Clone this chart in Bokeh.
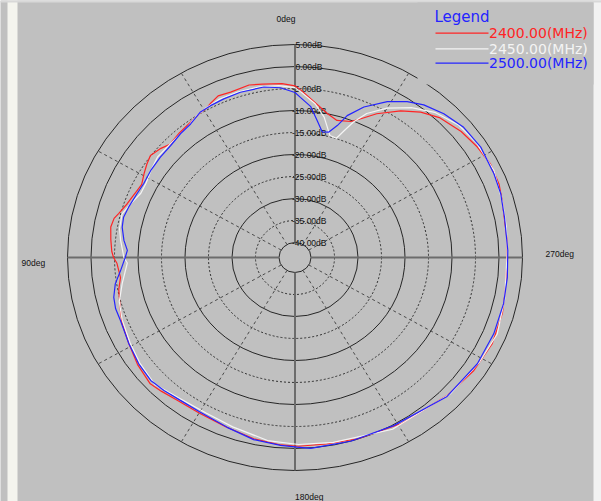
import numpy as np
from bokeh.plotting import figure
from bokeh.models import Range1d
from bokeh.embed import file_html
from bokeh.resources import INLINE
from bokeh.core.properties import value

# ---------------- data (angle in deg, ccw from top; gain in dB) ----------------
red_ang = [0, 4, 10, 14, 20, 24, 27, 29, 32, 36, 41, 46, 49, 53, 56, 59, 63, 66, 68, 71,
           75, 77, 80, 84, 88, 90, 92, 97, 101, 107, 112, 119, 126, 133, 137, 142, 150, 159, 168, 176,
           181, 189, 198, 211, 226, 236, 245, 254, 260, 266, 272, 275, 281, 286, 291, 297, 303, 309, 316, 321,
           326, 332, 336, 339, 344, 348, 354, 358]
red_db = [-4.4, -3.8, -3.4, -3.0, -3.4, -3.2, -4.0, -4.6, -4.9, -5.5, -5.9, -6.4, -5.6, -4.9, -5.4, -6.0, -6.8, -6.5, -6.2, -5.7,
          -4.6, -3.9, -3.6, -4.0, -4.4, -4.8, -5.5, -6.0, -5.2, -4.5, -3.7, -3.0, -2.0, -1.3, -1.8, -2.4, -2.6, -2.2, -1.3, -0.7,
          -0.5, -0.5, -0.1, 0.6, 1.7, 2.5, 2.9, 2.5, 2.0, 1.7, 1.8, 1.9, 2.0, 2.5, 3.1, 3.3, 2.8, 2.1, 0.8, -0.9,
          -3.2, -6.4, -8.9, -10.3, -11.0, -10.0, -7.5, -5.4]

white_ang = [0, 5, 11, 18, 24, 29, 33, 38, 43, 47, 52, 57, 62, 66, 71, 75, 80, 84, 90, 92,
             99, 105, 111, 119, 126, 134, 142, 152, 161, 172, 181, 191, 208, 227, 239, 248, 258, 272, 279, 286,
             295, 304, 311, 318, 324, 330, 335, 338, 340, 342, 345, 349, 353, 358]
white_db = [-4.8, -4.2, -3.9, -3.9, -4.0, -4.5, -5.0, -6.0, -6.3, -6.4, -6.3, -6.9, -7.5, -7.5, -6.3, -5.3, -5.5, -6.1, -7.0, -7.7,
            -6.2, -4.7, -4.0, -3.3, -2.6, -1.9, -3.0, -3.3, -2.7, -1.4, -0.9, -0.6, 0.8, 1.9, 2.5, 3.0, 2.2, 1.8, 2.1, 2.5,
            3.3, 3.2, 2.6, 1.0, -1.3, -4.2, -7.3, -10.2, -12.7, -14.9, -14.7, -10.9, -8.2, -5.8]

blue_ang = [0, 4.6, 9.7, 17.2, 22.8, 27.5, 31.3, 36.2, 40.9, 46.1, 51.5, 57.3, 62.5, 66.7, 72.1, 75.9, 79.4, 83.9, 87.4, 89.9,
            94.5, 98.9, 103.2, 107.0, 111.1, 119.0, 126.0, 132.3, 137.3, 143.1, 150.2, 159.5, 168.0, 175.9, 180.6, 184.4, 195.8, 208.8, 225.7, 238.1,
            247.7, 256.7, 264.3, 272.0, 281.6, 288.3, 294.2, 302.4, 309.5, 315.9, 321.7, 326.0, 331.0, 336.8, 341.0, 343.3, 345.8, 348.5, 351.4, 354.5,
            358.2]
blue_db = [-5.9, -4.7, -4.1, -4.1, -4.3, -4.5, -4.7, -5.8, -6.2, -6.7, -6.8, -6.9, -7.1, -6.8, -6.2, -5.8, -6.0, -6.8, -7.7, -7.3,
           -6.2, -4.7, -3.8, -3.5, -3.6, -3.0, -2.3, -1.9, -2.3, -2.8, -2.9, -2.2, -1.1, -0.6, -0.3, 0.1, 0.0, 0.2, 1.8, 2.3,
           2.3, 2.2, 2.0, 1.9, 2.1, 2.7, 3.0, 3.4, 3.1, 2.1, 0.8, -0.7, -2.9, -6.2, -9.3, -12.1, -14.0, -14.3, -11.9, -8.9,
           -7.0]

series_names = ["2400.00(MHz)", "2450.00(MHz)", "2500.00(MHz)"]
series_colors = ["#ff2424", "#f4f4f4", "#2424ff"]

ring_db = [5, 0, -5, -10, -15, -20, -25, -30, -35, -40]
ring_labels = ["5.00dB", "0.00dB", "-5.00dB", "-10.00dB", "-15.00dB", "-20.00dB",
               "-25.00dB", "-30.00dB", "-35.00dB", "-40.00dB"]
ring_solid = [True, True, False, True, False, True, False, True, False, True]
spoke_deg = [30, 60, 120, 150, 210, 240, 300, 330]
axis_deg = [0, 90, 180, 270]
angle_labels = ["0deg", "90deg", "180deg", "270deg"]

# ---------------- geometry helpers ----------------
DB_MIN, DB_MAX = -40.0, 5.0
R_IN = 15.0 / 213.0            # radius of the -40 dB ring relative to the +5 dB ring


def rn(db):
    return R_IN + (np.asarray(db, dtype=float) - DB_MIN) * (1 - R_IN) / (DB_MAX - DB_MIN)


def polar(ang, db):
    t = np.radians(np.asarray(ang, dtype=float))
    r = rn(db)
    return -r * np.sin(t), r * np.cos(t)


# canvas-pixel helpers (chart centre at pixel 294.5, 257; +5 dB ring radii 227.5 x 213 px)
CX, CY, SX, SY = 294.5, 257.0, 227.5, 213.0
def xd(px):
    return (px - CX) / SX
def yd(py):
    return (CY - py) / SY


BG = "#c0c0c0"
W, H = 601, 501
p = figure(width=W, height=H, output_backend="svg", toolbar_location=None,
           x_range=Range1d(xd(0), xd(W)), y_range=Range1d(yd(H), yd(0)),
           x_axis_type=None, y_axis_type=None, min_border=0,
           background_fill_color=BG, border_fill_color=BG, outline_line_color=None)
p.grid.visible = False

# light window strips
p.quad(left=[xd(7), xd(593), xd(0)], right=[xd(17), xd(W), xd(W)],
       bottom=[yd(H), yd(H), yd(2)], top=[yd(0), yd(0), yd(0)],
       fill_color=["#f4f4ee", "#f2f2f2", "#d8d8d8"], line_color=None)

# rings
for db, solid in zip(ring_db, ring_solid):
    r = float(rn(db))
    p.ellipse(x=0, y=0, width=2 * r, height=2 * r, fill_color=None,
              line_color="#262626" if solid else "#303030", line_width=1,
              line_dash="solid" if solid else "2 2")

# dashed spokes
sx0, sy0 = polar(spoke_deg, [DB_MIN] * len(spoke_deg))
sx1, sy1 = polar(spoke_deg, [DB_MAX] * len(spoke_deg))
p.segment(x0=sx0, y0=sy0, x1=sx1, y1=sy1, line_color="#4a4a4a", line_width=1, line_dash="3 3")

# main axes
ax0, ay0 = polar(axis_deg, [DB_MIN] * 4)
ax1, ay1 = polar(axis_deg, [DB_MAX] * 4)
p.segment(x0=ax0, y0=ay0, x1=ax1, y1=ay1, line_color="#6c6c6c", line_width=2)

# legend box (occludes the ring, like the reference)
p.quad(left=xd(417), right=xd(593), bottom=yd(84), top=yd(2), fill_color=BG, line_color=None)

# ring labels
lab_x = [xd(295) if not l.startswith("-") else xd(291.5) for l in ring_labels]
p.text(x=lab_x, y=list(rn(ring_db)), text=ring_labels, text_align="left", text_baseline="middle",
       text_font=value("Liberation Sans"), text_font_size="8.5px", text_color="#111111")

# angle labels
p.text(x=[xd(285.5), xd(21), xd(294.5), xd(545)], y=[yd(18.5), yd(262), yd(496.5), yd(253)],
       text=angle_labels, text_align=["center", "left", "left", "left"], text_baseline="middle",
       text_font=value("Liberation Sans"), text_font_size="8.5px", text_color="#111111")

# curves
for ang, db, col in [(red_ang, red_db, series_colors[0]), (white_ang, white_db, series_colors[1]),
                     (blue_ang, blue_db, series_colors[2])]:
    x, y = polar(list(ang) + [ang[0]], list(db) + [db[0]])
    p.line(x, y, line_color=col, line_width=1.2)

# legend
p.text(x=[xd(434)], y=[yd(16)], text=["Legend"], text_align="left", text_baseline="middle",
       text_font=value("DejaVu Sans"), text_font_size="15px", text_color="#2424ff")
leg_y = [yd(32.7), yd(48.3), yd(62.7)]
p.segment(x0=[xd(435)] * 3, y0=leg_y, x1=[xd(488)] * 3, y1=leg_y, line_color=series_colors, line_width=1.2)
p.text(x=[xd(488.5)] * 3, y=leg_y, text=series_names, text_align="left", text_baseline="middle",
       text_font=value("DejaVu Sans"), text_font_size="14px", text_color=series_colors)

open("out.html", "w").write(file_html(p, INLINE))
